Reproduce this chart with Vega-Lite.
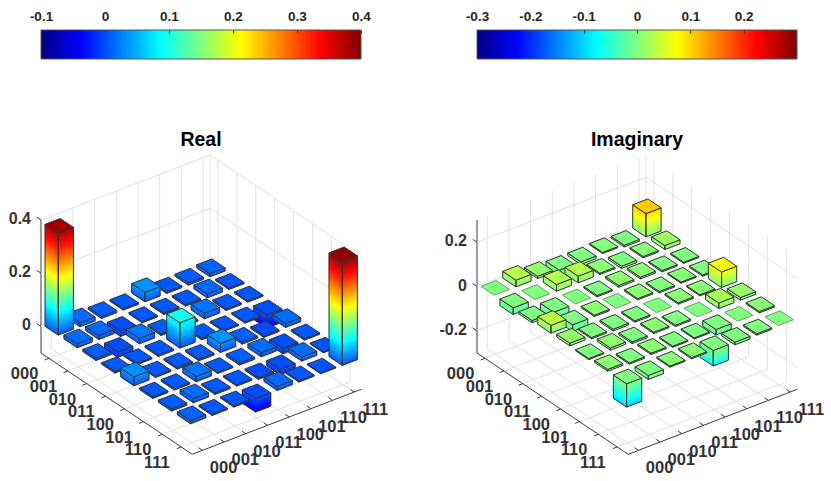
{
"$schema":"https://vega.github.io/schema/vega-lite/v6.json",
"background":"white",
"padding":{"left":8,"top":9,"right":0,"bottom":0},
"bounds":"flush",
"spacing":126,
"config":{"view":{"stroke":null},"text":{"font":"Liberation Sans"}},
"datasets":{
"real":[
{"r":0,"c":7,"z":0.012},{"r":0,"c":6,"z":0.008},{"r":0,"c":5,"z":0.006},{"r":0,"c":4,"z":0.035},{"r":0,"c":3,"z":0.006},{"r":0,"c":2,"z":0.008},{"r":0,"c":1,"z":0.015},{"r":0,"c":0,"z":0.383},
{"r":1,"c":7,"z":0.005},{"r":1,"c":6,"z":0.015},{"r":1,"c":5,"z":0.006},{"r":1,"c":4,"z":0.006},{"r":1,"c":3,"z":0.005},{"r":1,"c":2,"z":-0.02},{"r":1,"c":1,"z":0.015},{"r":1,"c":0,"z":0.015},
{"r":2,"c":7,"z":0.005},{"r":2,"c":6,"z":0.006},{"r":2,"c":5,"z":0.02},{"r":2,"c":4,"z":0.006},{"r":2,"c":3,"z":0.006},{"r":2,"c":2,"z":0.02},{"r":2,"c":1,"z":-0.02},{"r":2,"c":0,"z":0.008},
{"r":3,"c":7,"z":-0.05},{"r":3,"c":6,"z":0.005},{"r":3,"c":5,"z":0.004},{"r":3,"c":4,"z":0.006},{"r":3,"c":3,"z":0.095},{"r":3,"c":2,"z":0.006},{"r":3,"c":1,"z":0.005},{"r":3,"c":0,"z":0.006},
{"r":4,"c":7,"z":0.015},{"r":4,"c":6,"z":-0.006},{"r":4,"c":5,"z":0.008},{"r":4,"c":4,"z":0.033},{"r":4,"c":3,"z":0.006},{"r":4,"c":2,"z":0.006},{"r":4,"c":1,"z":0.006},{"r":4,"c":0,"z":0.033},
{"r":5,"c":7,"z":0.005},{"r":5,"c":6,"z":-0.02},{"r":5,"c":5,"z":0.015},{"r":5,"c":4,"z":0.008},{"r":5,"c":3,"z":0.004},{"r":5,"c":2,"z":0.02},{"r":5,"c":1,"z":0.006},{"r":5,"c":0,"z":0.006},
{"r":6,"c":7,"z":0.003},{"r":6,"c":6,"z":0.015},{"r":6,"c":5,"z":-0.02},{"r":6,"c":4,"z":-0.006},{"r":6,"c":3,"z":0.005},{"r":6,"c":2,"z":0.006},{"r":6,"c":1,"z":0.015},{"r":6,"c":0,"z":0.008},
{"r":7,"c":7,"z":0.39},{"r":7,"c":6,"z":0.003},{"r":7,"c":5,"z":0.005},{"r":7,"c":4,"z":0.015},{"r":7,"c":3,"z":-0.05},{"r":7,"c":2,"z":0.005},{"r":7,"c":1,"z":0.005},{"r":7,"c":0,"z":0.012}
],
"imag":[
{"r":0,"c":7,"z":0.105},{"r":0,"c":6,"z":-0.008},{"r":0,"c":5,"z":0.005},{"r":0,"c":4,"z":-0.012},{"r":0,"c":3,"z":-0.035},{"r":0,"c":2,"z":0.01},{"r":0,"c":1,"z":0.03},{"r":0,"c":0,"z":0},
{"r":1,"c":7,"z":0.018},{"r":1,"c":6,"z":0.006},{"r":1,"c":5,"z":-0.01},{"r":1,"c":4,"z":0.006},{"r":1,"c":3,"z":0.03},{"r":1,"c":2,"z":0.03},{"r":1,"c":1,"z":0},{"r":1,"c":0,"z":-0.03},
{"r":2,"c":7,"z":-0.005},{"r":2,"c":6,"z":-0.006},{"r":2,"c":5,"z":0.008},{"r":2,"c":4,"z":0.008},{"r":2,"c":3,"z":-0.006},{"r":2,"c":2,"z":0},{"r":2,"c":1,"z":-0.03},{"r":2,"c":0,"z":-0.01},
{"r":3,"c":7,"z":-0.006},{"r":3,"c":6,"z":0.005},{"r":3,"c":5,"z":-0.006},{"r":3,"c":4,"z":0.006},{"r":3,"c":3,"z":0},{"r":3,"c":2,"z":0.006},{"r":3,"c":1,"z":-0.03},{"r":3,"c":0,"z":0.035},
{"r":4,"c":7,"z":0.07},{"r":4,"c":6,"z":0.005},{"r":4,"c":5,"z":0.006},{"r":4,"c":4,"z":0},{"r":4,"c":3,"z":-0.006},{"r":4,"c":2,"z":-0.008},{"r":4,"c":1,"z":-0.006},{"r":4,"c":0,"z":0.012},
{"r":5,"c":7,"z":0.012},{"r":5,"c":6,"z":0.025},{"r":5,"c":5,"z":0},{"r":5,"c":4,"z":-0.006},{"r":5,"c":3,"z":0.006},{"r":5,"c":2,"z":-0.008},{"r":5,"c":1,"z":0.01},{"r":5,"c":0,"z":-0.005},
{"r":6,"c":7,"z":0.006},{"r":6,"c":6,"z":0},{"r":6,"c":5,"z":-0.025},{"r":6,"c":4,"z":-0.005},{"r":6,"c":3,"z":-0.005},{"r":6,"c":2,"z":0.006},{"r":6,"c":1,"z":-0.006},{"r":6,"c":0,"z":0.008},
{"r":7,"c":7,"z":0},{"r":7,"c":6,"z":-0.006},{"r":7,"c":5,"z":-0.012},{"r":7,"c":4,"z":-0.07},{"r":7,"c":3,"z":0.006},{"r":7,"c":2,"z":0.005},{"r":7,"c":1,"z":-0.018},{"r":7,"c":0,"z":-0.105}
],
"frame":[
{"r1":0,"c1":-0.475,"h1":0,"r2":0,"c2":7.325,"h2":0,"l":"g"},{"r1":1,"c1":-0.475,"h1":0,"r2":1,"c2":7.325,"h2":0,"l":"g"},{"r1":2,"c1":-0.475,"h1":0,"r2":2,"c2":7.325,"h2":0,"l":"g"},{"r1":3,"c1":-0.475,"h1":0,"r2":3,"c2":7.325,"h2":0,"l":"g"},{"r1":4,"c1":-0.475,"h1":0,"r2":4,"c2":7.325,"h2":0,"l":"g"},{"r1":5,"c1":-0.475,"h1":0,"r2":5,"c2":7.325,"h2":0,"l":"g"},{"r1":6,"c1":-0.475,"h1":0,"r2":6,"c2":7.325,"h2":0,"l":"g"},{"r1":7,"c1":-0.475,"h1":0,"r2":7,"c2":7.325,"h2":0,"l":"g"},
{"r1":-0.42,"c1":0,"h1":0,"r2":7.58,"c2":0,"h2":0,"l":"g"},{"r1":-0.42,"c1":1,"h1":0,"r2":7.58,"c2":1,"h2":0,"l":"g"},{"r1":-0.42,"c1":2,"h1":0,"r2":7.58,"c2":2,"h2":0,"l":"g"},{"r1":-0.42,"c1":3,"h1":0,"r2":7.58,"c2":3,"h2":0,"l":"g"},{"r1":-0.42,"c1":4,"h1":0,"r2":7.58,"c2":4,"h2":0,"l":"g"},{"r1":-0.42,"c1":5,"h1":0,"r2":7.58,"c2":5,"h2":0,"l":"g"},{"r1":-0.42,"c1":6,"h1":0,"r2":7.58,"c2":6,"h2":0,"l":"g"},{"r1":-0.42,"c1":7,"h1":0,"r2":7.58,"c2":7,"h2":0,"l":"g"},
{"r1":-0.42,"c1":0,"h1":0,"r2":-0.42,"c2":0,"h2":1,"l":"g"},{"r1":-0.42,"c1":1,"h1":0,"r2":-0.42,"c2":1,"h2":1,"l":"g"},{"r1":-0.42,"c1":2,"h1":0,"r2":-0.42,"c2":2,"h2":1,"l":"g"},{"r1":-0.42,"c1":3,"h1":0,"r2":-0.42,"c2":3,"h2":1,"l":"g"},{"r1":-0.42,"c1":4,"h1":0,"r2":-0.42,"c2":4,"h2":1,"l":"g"},{"r1":-0.42,"c1":5,"h1":0,"r2":-0.42,"c2":5,"h2":1,"l":"g"},{"r1":-0.42,"c1":6,"h1":0,"r2":-0.42,"c2":6,"h2":1,"l":"g"},{"r1":-0.42,"c1":7,"h1":0,"r2":-0.42,"c2":7,"h2":1,"l":"g"},
{"r1":0,"c1":7.325,"h1":0,"r2":0,"c2":7.325,"h2":1,"l":"g"},{"r1":1,"c1":7.325,"h1":0,"r2":1,"c2":7.325,"h2":1,"l":"g"},{"r1":2,"c1":7.325,"h1":0,"r2":2,"c2":7.325,"h2":1,"l":"g"},{"r1":3,"c1":7.325,"h1":0,"r2":3,"c2":7.325,"h2":1,"l":"g"},{"r1":4,"c1":7.325,"h1":0,"r2":4,"c2":7.325,"h2":1,"l":"g"},{"r1":5,"c1":7.325,"h1":0,"r2":5,"c2":7.325,"h2":1,"l":"g"},{"r1":6,"c1":7.325,"h1":0,"r2":6,"c2":7.325,"h2":1,"l":"g"},{"r1":7,"c1":7.325,"h1":0,"r2":7,"c2":7.325,"h2":1,"l":"g"},
{"r1":-0.42,"c1":7.325,"h1":0,"r2":-0.42,"c2":7.325,"h2":1,"l":"g"},
{"r1":-0.42,"c1":-0.475,"h1":0,"r2":7.58,"c2":-0.475,"h2":0,"l":"a"},{"r1":7.58,"c1":-0.475,"h1":0,"r2":7.58,"c2":7.325,"h2":0,"l":"a"},{"r1":-0.42,"c1":-0.475,"h1":0,"r2":-0.42,"c2":-0.475,"h2":1,"l":"a"},
{"r1":0,"c1":-0.475,"h1":0,"r2":0,"c2":-0.675,"h2":0,"l":"a"},{"r1":1,"c1":-0.475,"h1":0,"r2":1,"c2":-0.675,"h2":0,"l":"a"},{"r1":2,"c1":-0.475,"h1":0,"r2":2,"c2":-0.675,"h2":0,"l":"a"},{"r1":3,"c1":-0.475,"h1":0,"r2":3,"c2":-0.675,"h2":0,"l":"a"},{"r1":4,"c1":-0.475,"h1":0,"r2":4,"c2":-0.675,"h2":0,"l":"a"},{"r1":5,"c1":-0.475,"h1":0,"r2":5,"c2":-0.675,"h2":0,"l":"a"},{"r1":6,"c1":-0.475,"h1":0,"r2":6,"c2":-0.675,"h2":0,"l":"a"},{"r1":7,"c1":-0.475,"h1":0,"r2":7,"c2":-0.675,"h2":0,"l":"a"},
{"r1":7.58,"c1":0,"h1":0,"r2":7.38,"c2":0,"h2":0,"l":"a"},{"r1":7.58,"c1":1,"h1":0,"r2":7.38,"c2":1,"h2":0,"l":"a"},{"r1":7.58,"c1":2,"h1":0,"r2":7.38,"c2":2,"h2":0,"l":"a"},{"r1":7.58,"c1":3,"h1":0,"r2":7.38,"c2":3,"h2":0,"l":"a"},{"r1":7.58,"c1":4,"h1":0,"r2":7.38,"c2":4,"h2":0,"l":"a"},{"r1":7.58,"c1":5,"h1":0,"r2":7.38,"c2":5,"h2":0,"l":"a"},{"r1":7.58,"c1":6,"h1":0,"r2":7.38,"c2":6,"h2":0,"l":"a"},{"r1":7.58,"c1":7,"h1":0,"r2":7.38,"c2":7,"h2":0,"l":"a"}
],
"levelsReal":[
{"r1":-0.42,"c1":-0.475,"h1":0.2,"r2":-0.42,"c2":7.325,"h2":0.2,"l":"g"},{"r1":-0.42,"c1":7.325,"h1":0.2,"r2":7.58,"c2":7.325,"h2":0.2,"l":"g"},{"r1":-0.42,"c1":-0.475,"h1":0.2,"r2":-0.65,"c2":-0.475,"h2":0.2,"l":"a"},
{"r1":-0.42,"c1":-0.475,"h1":0.6,"r2":-0.42,"c2":7.325,"h2":0.6,"l":"g"},{"r1":-0.42,"c1":7.325,"h1":0.6,"r2":7.58,"c2":7.325,"h2":0.6,"l":"g"},{"r1":-0.42,"c1":-0.475,"h1":0.6,"r2":-0.65,"c2":-0.475,"h2":0.6,"l":"a"},
{"r1":-0.42,"c1":-0.475,"h1":1,"r2":-0.42,"c2":7.325,"h2":1,"l":"g"},{"r1":-0.42,"c1":7.325,"h1":1,"r2":7.58,"c2":7.325,"h2":1,"l":"g"},{"r1":-0.42,"c1":-0.475,"h1":1,"r2":-0.65,"c2":-0.475,"h2":1,"l":"a"}
],
"levelsImag":[
{"r1":-0.42,"c1":-0.475,"h1":0.1667,"r2":-0.42,"c2":7.325,"h2":0.1667,"l":"g"},{"r1":-0.42,"c1":7.325,"h1":0.1667,"r2":7.58,"c2":7.325,"h2":0.1667,"l":"g"},{"r1":-0.42,"c1":-0.475,"h1":0.1667,"r2":-0.65,"c2":-0.475,"h2":0.1667,"l":"a"},
{"r1":-0.42,"c1":-0.475,"h1":0.5,"r2":-0.42,"c2":7.325,"h2":0.5,"l":"g"},{"r1":-0.42,"c1":7.325,"h1":0.5,"r2":7.58,"c2":7.325,"h2":0.5,"l":"g"},{"r1":-0.42,"c1":-0.475,"h1":0.5,"r2":-0.65,"c2":-0.475,"h2":0.5,"l":"a"},
{"r1":-0.42,"c1":-0.475,"h1":0.8333,"r2":-0.42,"c2":7.325,"h2":0.8333,"l":"g"},{"r1":-0.42,"c1":7.325,"h1":0.8333,"r2":7.58,"c2":7.325,"h2":0.8333,"l":"g"},{"r1":-0.42,"c1":-0.475,"h1":0.8333,"r2":-0.65,"c2":-0.475,"h2":0.8333,"l":"a"}
],
"labels":[
{"label":"000","r":0.33,"c":-1.885},{"label":"001","r":1.33,"c":-1.885},{"label":"010","r":2.33,"c":-1.885},{"label":"011","r":3.33,"c":-1.885},{"label":"100","r":4.33,"c":-1.885},{"label":"101","r":5.33,"c":-1.885},{"label":"110","r":6.33,"c":-1.885},{"label":"111","r":7.33,"c":-1.885},
{"label":"000","r":8.89,"c":-0.17},{"label":"001","r":8.89,"c":0.83},{"label":"010","r":8.89,"c":1.83},{"label":"011","r":8.89,"c":2.83},{"label":"100","r":8.89,"c":3.83},{"label":"101","r":8.89,"c":4.83},{"label":"110","r":8.89,"c":5.83},{"label":"111","r":8.89,"c":6.83}
],
"zReal":[{"label":"0","h":0.2},{"label":"0.2","h":0.6},{"label":"0.4","h":1}],
"zImag":[{"label":"-0.2","h":0.1667},{"label":"0","h":0.5},{"label":"0.2","h":0.8333}]
},
"vconcat":[
{"hconcat":[
{"width":320,"height":29,"data":{"values":[{"lo":-0.1,"hi":0.4}]},
"mark":{"type":"rect","stroke":"#555","strokeWidth":1,"color":{"gradient":"linear","x1":0,"x2":1,"y1":0,"y2":0,"stops":[{"offset":0,"color":"#000080"},{"offset":0.125,"color":"#0000ff"},{"offset":0.375,"color":"#00ffff"},{"offset":0.625,"color":"#ffff00"},{"offset":0.875,"color":"#ff0000"},{"offset":1,"color":"#800000"}]}},
"encoding":{"x":{"field":"lo","type":"quantitative","title":null,"scale":{"domain":[-0.1,0.4],"nice":false,"zero":false},
"axis":{"orient":"top","values":[-0.1,0,0.1,0.2,0.3,0.4],"labelExpr":"''+datum.value","domain":false,"grid":false,"tickSize":-3,"tickColor":"#333","labelPadding":10,"labelFont":"Liberation Sans","labelFontWeight":"bold","labelFontSize":13.5,"labelColor":"#262626","labelFlush":false,"zindex":1}},
"x2":{"field":"hi"}}},
{"width":320,"height":29,"data":{"values":[{"lo":-0.3,"hi":0.3}]},
"mark":{"type":"rect","stroke":"#555","strokeWidth":1,"color":{"gradient":"linear","x1":0,"x2":1,"y1":0,"y2":0,"stops":[{"offset":0,"color":"#000080"},{"offset":0.125,"color":"#0000ff"},{"offset":0.375,"color":"#00ffff"},{"offset":0.625,"color":"#ffff00"},{"offset":0.875,"color":"#ff0000"},{"offset":1,"color":"#800000"}]}},
"encoding":{"x":{"field":"lo","type":"quantitative","title":null,"scale":{"domain":[-0.3,0.3],"nice":false,"zero":false},
"axis":{"orient":"top","values":[-0.3,-0.2,-0.1,0,0.1,0.2],"labelExpr":"''+datum.value","domain":false,"grid":false,"tickSize":-3,"tickColor":"#333","labelPadding":10,"labelFont":"Liberation Sans","labelFontWeight":"bold","labelFontSize":13.5,"labelColor":"#262626","labelFlush":false,"zindex":1}},
"x2":{"field":"hi"}}}
],"spacing":116,"bounds":"flush"},
{"hconcat":[
{"width":320,"height":296,
"title":{"text":"Real","font":"Liberation Sans","fontWeight":"bold","fontSize":19.5,"color":"#000","offset":4},
"encoding":{"x":{"field":"X","type":"quantitative","axis":null,"scale":{"domain":[0,320],"nice":false,"zero":false}},
"y":{"field":"Y","type":"quantitative","axis":null,"scale":{"domain":[0,296],"nice":false,"zero":false,"reverse":true}}},
"layer":[
{"data":{"name":"frame"},
"transform":[
{"calculate":"18.9*(datum.r1+0.42)+21.67*(datum.c1+0.475)","as":"X"},{"calculate":"197+12.66*(datum.r1+0.42)-8.33*(datum.c1+0.475)-133*datum.h1","as":"Y"},
{"calculate":"18.9*(datum.r2+0.42)+21.67*(datum.c2+0.475)","as":"X2"},{"calculate":"197+12.66*(datum.r2+0.42)-8.33*(datum.c2+0.475)-133*datum.h2","as":"Y2"}],
"mark":{"type":"rule","strokeWidth":1},
"encoding":{"x2":{"field":"X2"},"y2":{"field":"Y2"},"color":{"field":"l","type":"nominal","legend":null,"scale":{"domain":["g","a"],"range":["#e2e2e2","#3a3a3a"]}}}},
{"data":{"name":"levelsReal"},
"transform":[
{"calculate":"18.9*(datum.r1+0.42)+21.67*(datum.c1+0.475)","as":"X"},{"calculate":"197+12.66*(datum.r1+0.42)-8.33*(datum.c1+0.475)-133*datum.h1","as":"Y"},
{"calculate":"18.9*(datum.r2+0.42)+21.67*(datum.c2+0.475)","as":"X2"},{"calculate":"197+12.66*(datum.r2+0.42)-8.33*(datum.c2+0.475)-133*datum.h2","as":"Y2"}],
"mark":{"type":"rule","strokeWidth":1},
"encoding":{"x2":{"field":"X2"},"y2":{"field":"Y2"},"color":{"field":"l","type":"nominal","legend":null,"scale":{"domain":["g","a"],"range":["#e2e2e2","#3a3a3a"]}}}},
{"data":{"name":"real"},
"transform":[
{"calculate":"max(datum.z,0)","as":"ztop"},{"calculate":"min(datum.z,0)","as":"zbot"},
{"calculate":"ceil((datum.ztop-datum.zbot)/0.008)","as":"n"},
{"calculate":"sequence(0,datum.n+1)","as":"k"},{"flatten":["k"]},
{"calculate":"[0,1,2]","as":"f"},{"flatten":["f"]},
{"filter":"datum.k<datum.n ? datum.f<2 : (datum.z!=0 || datum.f==2)"},
{"calculate":"datum.k<datum.n ? datum.zbot+(datum.ztop-datum.zbot)*datum.k/datum.n : datum.zbot","as":"lo"},
{"calculate":"datum.k<datum.n ? datum.zbot+(datum.ztop-datum.zbot)*(datum.k+1)/datum.n : datum.ztop","as":"hi"},
{"calculate":"((datum.f==2?datum.ztop:(datum.lo+datum.hi)/2)+0.1)/0.5","as":"t"},
{"calculate":"'rgb('+round(255*clamp(min(4*datum.t-1.5,4.5-4*datum.t),0,1))+','+round(255*clamp(min(4*datum.t-0.5,3.5-4*datum.t),0,1))+','+round(255*clamp(min(4*datum.t+0.5,2.5-4*datum.t),0,1))+')'","as":"jet"},
{"calculate":"(datum.k<datum.n||datum.f==2)?datum.jet:'none'","as":"faceFill"},
{"calculate":"datum.k<datum.n?datum.jet:'#333333'","as":"faceStroke"},
{"calculate":"datum.k<datum.n?0.5:1","as":"faceWidth"},
{"calculate":"'b'+datum.r+'_'+datum.c+'_'+datum.k+'_'+datum.f","as":"id"},
{"calculate":"[0,1,2,3,4]","as":"v"},{"flatten":["v"]},
{"calculate":"datum.f==1?1:[-1,1,1,-1,-1][datum.v]","as":"dr"},
{"calculate":"datum.f==0?-1:(datum.f==1?[-1,1,1,-1,-1][datum.v]:[-1,-1,1,1,-1][datum.v])","as":"dc"},
{"calculate":"datum.f==2?datum.ztop:((datum.v==2||datum.v==3)?datum.lo:datum.hi)","as":"vz"},
{"calculate":"18.9*(datum.r+0.42+0.35*datum.dr)+21.67*(datum.c+0.475+0.35*datum.dc)","as":"X"},
{"calculate":"197+12.66*(datum.r+0.42+0.35*datum.dr)-8.33*(datum.c+0.475+0.35*datum.dc)-266*(datum.vz+0.1)","as":"Y"}],
"mark":{"type":"line","strokeJoin":"round"},
"encoding":{"detail":{"field":"id"},"order":{"field":"v","type":"quantitative"},
"fill":{"field":"faceFill","type":"nominal","scale":null},"stroke":{"field":"faceStroke","type":"nominal","scale":null},"strokeWidth":{"field":"faceWidth","type":"quantitative","scale":null}}},
{"data":{"name":"labels"},
"transform":[{"calculate":"18.9*(datum.r+0.42)+21.67*(datum.c+0.475)","as":"X"},{"calculate":"197+12.66*(datum.r+0.42)-8.33*(datum.c+0.475)","as":"Y"}],
"mark":{"type":"text","fontWeight":"bold","fontSize":16.5,"color":"#333","align":"center","baseline":"middle"},
"encoding":{"text":{"field":"label"}}},
{"data":{"name":"zReal"},
"transform":[{"calculate":"18.9*0+21.67*0","as":"X"},{"calculate":"197-133*datum.h","as":"Y"}],
"mark":{"type":"text","fontWeight":"bold","fontSize":16,"color":"#333","align":"right","baseline":"middle","dx":-10,"dy":-1},
"encoding":{"text":{"field":"label"}}}
]},
{"width":320,"height":296,
"title":{"text":"Imaginary","font":"Liberation Sans","fontWeight":"bold","fontSize":19.5,"color":"#000","offset":4},
"encoding":{"x":{"field":"X","type":"quantitative","axis":null,"scale":{"domain":[0,320],"nice":false,"zero":false}},
"y":{"field":"Y","type":"quantitative","axis":null,"scale":{"domain":[0,296],"nice":false,"zero":false,"reverse":true}}},
"layer":[
{"data":{"name":"frame"},
"transform":[
{"calculate":"18.9*(datum.r1+0.42)+21.67*(datum.c1+0.475)","as":"X"},{"calculate":"197+12.66*(datum.r1+0.42)-8.33*(datum.c1+0.475)-133*datum.h1","as":"Y"},
{"calculate":"18.9*(datum.r2+0.42)+21.67*(datum.c2+0.475)","as":"X2"},{"calculate":"197+12.66*(datum.r2+0.42)-8.33*(datum.c2+0.475)-133*datum.h2","as":"Y2"}],
"mark":{"type":"rule","strokeWidth":1},
"encoding":{"x2":{"field":"X2"},"y2":{"field":"Y2"},"color":{"field":"l","type":"nominal","legend":null,"scale":{"domain":["g","a"],"range":["#e2e2e2","#3a3a3a"]}}}},
{"data":{"name":"levelsImag"},
"transform":[
{"calculate":"18.9*(datum.r1+0.42)+21.67*(datum.c1+0.475)","as":"X"},{"calculate":"197+12.66*(datum.r1+0.42)-8.33*(datum.c1+0.475)-133*datum.h1","as":"Y"},
{"calculate":"18.9*(datum.r2+0.42)+21.67*(datum.c2+0.475)","as":"X2"},{"calculate":"197+12.66*(datum.r2+0.42)-8.33*(datum.c2+0.475)-133*datum.h2","as":"Y2"}],
"mark":{"type":"rule","strokeWidth":1},
"encoding":{"x2":{"field":"X2"},"y2":{"field":"Y2"},"color":{"field":"l","type":"nominal","legend":null,"scale":{"domain":["g","a"],"range":["#e2e2e2","#3a3a3a"]}}}},
{"data":{"name":"imag"},
"transform":[
{"calculate":"max(datum.z,0)","as":"ztop"},{"calculate":"min(datum.z,0)","as":"zbot"},
{"calculate":"ceil((datum.ztop-datum.zbot)/0.008)","as":"n"},
{"calculate":"sequence(0,datum.n+1)","as":"k"},{"flatten":["k"]},
{"calculate":"[0,1,2]","as":"f"},{"flatten":["f"]},
{"filter":"datum.k<datum.n ? datum.f<2 : (datum.z!=0 || datum.f==2)"},
{"calculate":"datum.k<datum.n ? datum.zbot+(datum.ztop-datum.zbot)*datum.k/datum.n : datum.zbot","as":"lo"},
{"calculate":"datum.k<datum.n ? datum.zbot+(datum.ztop-datum.zbot)*(datum.k+1)/datum.n : datum.ztop","as":"hi"},
{"calculate":"((datum.f==2?datum.ztop:(datum.lo+datum.hi)/2)+0.3)/0.6","as":"t"},
{"calculate":"'rgb('+round(255*clamp(min(4*datum.t-1.5,4.5-4*datum.t),0,1))+','+round(255*clamp(min(4*datum.t-0.5,3.5-4*datum.t),0,1))+','+round(255*clamp(min(4*datum.t+0.5,2.5-4*datum.t),0,1))+')'","as":"jet"},
{"calculate":"(datum.k<datum.n||datum.f==2)?datum.jet:'none'","as":"faceFill"},
{"calculate":"datum.k<datum.n?datum.jet:(datum.z==0?'#6f9f62':'#333333')","as":"faceStroke"},
{"calculate":"datum.k<datum.n?0.5:1","as":"faceWidth"},
{"calculate":"'b'+datum.r+'_'+datum.c+'_'+datum.k+'_'+datum.f","as":"id"},
{"calculate":"[0,1,2,3,4]","as":"v"},{"flatten":["v"]},
{"calculate":"datum.f==1?1:[-1,1,1,-1,-1][datum.v]","as":"dr"},
{"calculate":"datum.f==0?-1:(datum.f==1?[-1,1,1,-1,-1][datum.v]:[-1,-1,1,1,-1][datum.v])","as":"dc"},
{"calculate":"datum.f==2?datum.ztop:((datum.v==2||datum.v==3)?datum.lo:datum.hi)","as":"vz"},
{"calculate":"18.9*(datum.r+0.42+0.35*datum.dr)+21.67*(datum.c+0.475+0.35*datum.dc)","as":"X"},
{"calculate":"197+12.66*(datum.r+0.42+0.35*datum.dr)-8.33*(datum.c+0.475+0.35*datum.dc)-221.67*(datum.vz+0.3)","as":"Y"}],
"mark":{"type":"line","strokeJoin":"round"},
"encoding":{"detail":{"field":"id"},"order":{"field":"v","type":"quantitative"},
"fill":{"field":"faceFill","type":"nominal","scale":null},"stroke":{"field":"faceStroke","type":"nominal","scale":null},"strokeWidth":{"field":"faceWidth","type":"quantitative","scale":null}}},
{"data":{"name":"labels"},
"transform":[{"calculate":"18.9*(datum.r+0.42)+21.67*(datum.c+0.475)","as":"X"},{"calculate":"197+12.66*(datum.r+0.42)-8.33*(datum.c+0.475)","as":"Y"}],
"mark":{"type":"text","fontWeight":"bold","fontSize":16.5,"color":"#333","align":"center","baseline":"middle"},
"encoding":{"text":{"field":"label"}}},
{"data":{"name":"zImag"},
"transform":[{"calculate":"18.9*0+21.67*0","as":"X"},{"calculate":"197-133*datum.h","as":"Y"}],
"mark":{"type":"text","fontWeight":"bold","fontSize":16,"color":"#333","align":"right","baseline":"middle","dx":-10,"dy":-1},
"encoding":{"text":{"field":"label"}}}
]}
],"spacing":116,"bounds":"flush"}
]
}
